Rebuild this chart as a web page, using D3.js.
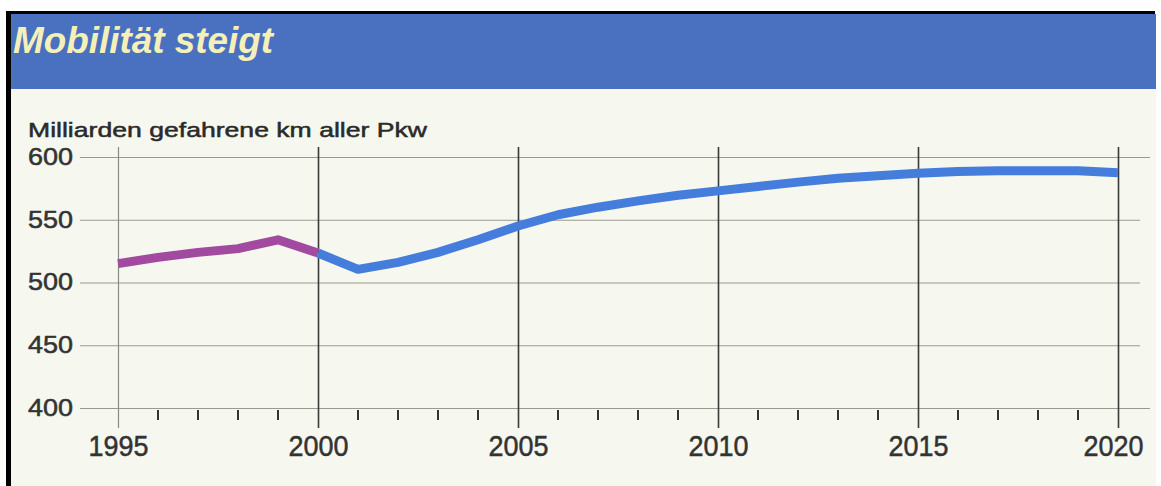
<!DOCTYPE html>
<html>
<head>
<meta charset="utf-8">
<script src="https://cdn.jsdelivr.net/npm/d3@7"></script>
<style>
  html, body { margin: 0; padding: 0; background: #ffffff; }
  svg { display: block; }
</style>
</head>
<body>
<svg id="chart" width="1161" height="486"></svg>
<script>
// ---- data ----
const title = "Mobilität steigt";
const subtitle = "Milliarden gefahrene km aller Pkw";
const yearsPast = [1995, 1996, 1997, 1998, 1999, 2000];
const valuesPast = [515, 520, 524, 527, 534, 523.5];
const yearsForecast = [2000, 2001, 2002, 2003, 2004, 2005, 2006, 2007, 2008, 2009, 2010,
                       2011, 2012, 2013, 2014, 2015, 2016, 2017, 2018, 2019, 2020];
const valuesForecast = [523.5, 510.5, 516, 524, 534, 545, 554, 560, 565, 569.5, 573,
                        576.5, 580, 583, 585, 587, 588.5, 589, 589, 589, 587.5];
const yTicks = [400, 450, 500, 550, 600];
const xMajorTicks = [1995, 2000, 2005, 2010, 2015, 2020];

// ---- layout ----
const svg = d3.select("#chart");
const W = 1161, H = 486;

svg.append("rect").attr("x", 0).attr("y", 0).attr("width", W).attr("height", H).attr("fill", "#ffffff");
svg.append("rect").attr("x", 6).attr("y", 11).attr("width", 1155 - 6).attr("height", H - 11).attr("fill", "#000000");
svg.append("rect").attr("x", 11).attr("y", 14).attr("width", 1156 - 11).attr("height", H - 14).attr("fill", "#f6f7ef");
svg.append("rect").attr("x", 11).attr("y", 14).attr("width", 1156 - 11).attr("height", 89 - 14).attr("fill", "#4a71c0");

svg.append("text")
  .attr("x", 13).attr("y", 53)
  .attr("font-family", "Liberation Sans, Arial, sans-serif")
  .attr("font-size", 36).attr("font-weight", "bold").attr("font-style", "italic")
  .attr("fill", "#f4f0b8")
  .attr("textLength", 260).attr("lengthAdjust", "spacingAndGlyphs")
  .text(title);

svg.append("text")
  .attr("x", 28).attr("y", 137)
  .attr("font-family", "Liberation Sans, Arial, sans-serif")
  .attr("font-size", 21)
  .attr("fill", "#2a2a2a").attr("stroke", "#2a2a2a").attr("stroke-width", 0.5)
  .attr("textLength", 399).attr("lengthAdjust", "spacingAndGlyphs")
  .text(subtitle);

// ---- scales ----
const x = d3.scaleLinear().domain([1995, 2020]).range([118, 1118]);
const y = d3.scaleLinear().domain([400, 600]).range([408, 157]);

const gridLeft = 80, gridRight = 1140;
const vTop = 147, vBottom = 428;

// horizontal gridlines + y labels
const yAxis = svg.append("g")
  .attr("transform", `translate(${gridLeft},0)`)
  .call(d3.axisLeft(y).tickValues(yTicks).tickSize(0).tickPadding(7).tickFormat(d3.format("d")));
yAxis.select(".domain").remove();
yAxis.selectAll(".tick line").remove();
yAxis.selectAll(".tick").append("line")
  .attr("x1", 0)
  .attr("x2", d => (d === 600 || d === 400) ? 1150 - gridLeft : gridRight - gridLeft)
  .attr("y1", 0).attr("y2", 0)
  .attr("stroke", "#9a9a8c").attr("stroke-width", 1.2);
yAxis.selectAll(".tick text")
  .attr("font-family", "Liberation Sans, Arial, sans-serif")
  .attr("font-size", 23)
  .attr("fill", "#333333").attr("stroke", "#333333").attr("stroke-width", 0.5)
  .attr("textLength", 45).attr("lengthAdjust", "spacingAndGlyphs");

// minor ticks between years
const minorYears = d3.range(1995, 2021).filter(v => v % 5 !== 0);
svg.append("g").selectAll("line")
  .data(minorYears)
  .join("line")
  .attr("x1", d => x(d)).attr("x2", d => x(d))
  .attr("y1", 410).attr("y2", 420)
  .attr("stroke", "#333333").attr("stroke-width", 2);

// vertical major lines + x labels
const xAxis = svg.append("g")
  .attr("transform", `translate(0,${vBottom})`)
  .call(d3.axisBottom(x).tickValues(xMajorTicks).tickSize(-(vBottom - vTop)).tickPadding(7).tickFormat(d3.format("d")));
xAxis.select(".domain").remove();
xAxis.selectAll(".tick line")
  .attr("stroke", d => d === 1995 ? "#8a8a84" : "#3a3a3a")
  .attr("stroke-width", d => d === 1995 ? 1.2 : 1.6);
xAxis.selectAll(".tick text")
  .attr("font-family", "Liberation Sans, Arial, sans-serif")
  .attr("font-size", 29)
  .attr("fill", "#333333").attr("stroke", "#333333").attr("stroke-width", 0.5)
  .attr("dx", d => d === 2020 ? -5 : 0)
  .attr("textLength", 60).attr("lengthAdjust", "spacingAndGlyphs");

// ---- lines ----
const line = d3.line().x(d => x(d[0])).y(d => y(d[1]));

svg.append("path")
  .datum(yearsPast.map((yr, i) => [yr, valuesPast[i]]))
  .attr("d", line)
  .attr("fill", "none")
  .attr("stroke", "#a14a9f")
  .attr("stroke-width", 9)
  .attr("stroke-linejoin", "round");

svg.append("path")
  .datum(yearsForecast.map((yr, i) => [yr, valuesForecast[i]]))
  .attr("d", line)
  .attr("fill", "none")
  .attr("stroke", "#447ddc")
  .attr("stroke-width", 9)
  .attr("stroke-linejoin", "round");
</script>
</body>
</html>
